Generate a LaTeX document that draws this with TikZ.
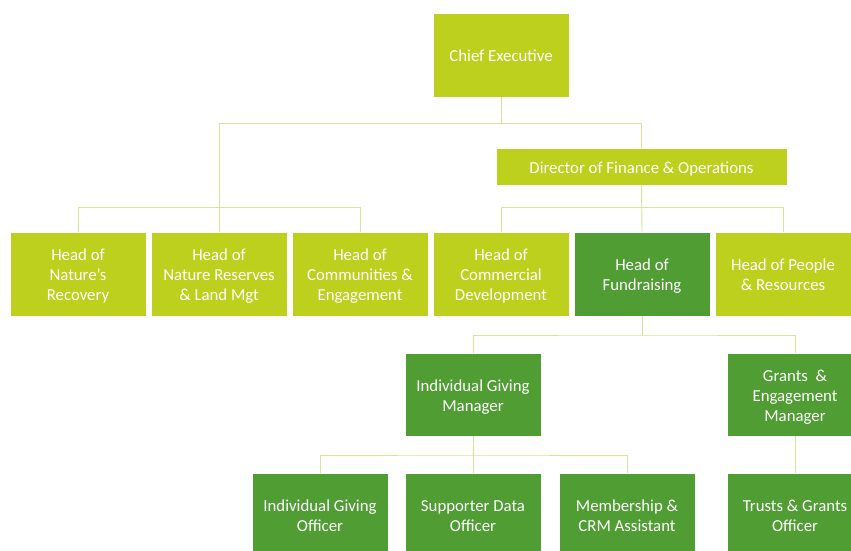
\documentclass[tikz,border=0pt]{standalone}
\usepackage{fontspec}
\setmainfont{Carlito}
\definecolor{lime}{RGB}{190,208,30}
\definecolor{dgreen}{RGB}{80,157,52}
\definecolor{connc}{RGB}{215,228,150}
\begin{document}
\begin{tikzpicture}[x=1pt,y=-1pt,
  txt/.style={align=center,text=white,font=\fontsize{16.8}{20}\selectfont,text height=17pt,text depth=4pt},
  two/.style={text height=37pt},
  three/.style={text height=57pt},
  box/.style={txt,fill=lime,draw=white,line width=0.6pt,inner sep=0pt,minimum width=136pt,minimum height=84pt},
  dbox/.style={box,fill=dgreen},
  conn/.style={draw=connc,line width=0.9pt}]
\useasboundingbox (0,0) rectangle (851,551);
\clip (0,0) rectangle (851,551);
\fill[white] (0,0) rectangle (851,551);
% nodes
\node[box] (ce) at (501,55) {Chief Executive};
\node[box,minimum width=291pt,minimum height=37pt] (dfo) at (641.5,166.5) {Director of Finance \& Operations};
\node[box,three] (h1) at (78,274) {Head of\\Nature’s\\Recovery};
\node[box,three] (h2) at (219,274) {Head of\\Nature Reserves\\\& Land Mgt};
\node[box,three] (h3) at (360,274) {Head of\\Communities \&\\Engagement};
\node[box,three] (h4) at (501,274) {Head of\\Commercial\\Development};
\node[dbox,two] (h5) at (642,274) {Head of\\Fundraising};
\node[box,two] (h6) at (783,274) {Head of People\\\& Resources};
\node[dbox,two,minimum height=83pt] (igm) at (473,394.5) {Individual Giving\\Manager};
\node[dbox,three,minimum height=83pt] (gem) at (795,394.5) {Grants \ \&\\Engagement\\Manager};
\node[dbox,minimum height=90pt,anchor=north] (o1) at (320,473) {};
\node[dbox,minimum height=90pt,anchor=north] (o2) at (473,473) {};
\node[dbox,minimum height=90pt,anchor=north] (o3) at (627,473) {};
\node[dbox,minimum height=90pt,anchor=north] (o4) at (795,473) {};
\node[txt,two] (t1) at (320,515) {Individual Giving\\Officer};
\node[txt,two] (t2) at (473,515) {Supporter Data\\Officer};
\node[txt,two] (t3) at (627,515) {Membership \&\\CRM Assistant};
\node[txt,two] (t4) at (795,515) {Trusts \& Grants\\Officer};
% connectors
\coordinate (j1) at (501,123);
\coordinate (fb) at (642,335);
\coordinate (ib) at (473,455);
\draw[conn] (ce.south) -- (j1);
\draw[conn] (j1) -| (dfo.north);
\draw[conn] (j1) -| (h2.north);
\draw[conn] (h1.north) -- ++(0,-24) -| (h3.north);
\draw[conn] (h4.north) -- ++(0,-24) -| (h6.north);
\draw[conn] (dfo.south) -- (h5.north);
\draw[conn] (h5.south) -- (fb);
\draw[conn] (igm.north) |- (fb) -| (gem.north);
\draw[conn] (igm.south) -- (o2.north);
\draw[conn] (o1.north) |- (ib) -| (o3.north);
\draw[conn] (gem.south) -- (o4.north);
\end{tikzpicture}
\end{document}
